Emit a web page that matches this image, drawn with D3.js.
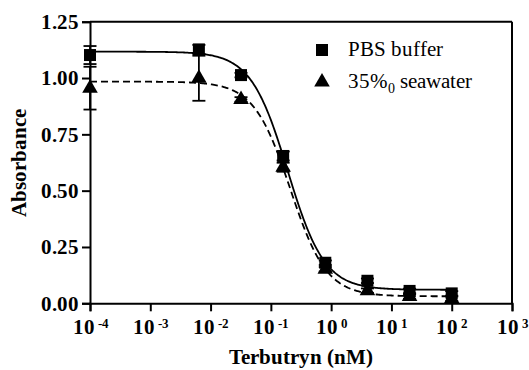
<!DOCTYPE html>
<html>
<head>
<meta charset="UTF-8">
<script src="https://cdn.jsdelivr.net/npm/d3@7"></script>
<style>
  @font-face { font-family: 'TSerif'; font-weight: normal; src: local('Liberation Serif'), local('LiberationSerif'), local('Times New Roman'); }
  @font-face { font-family: 'TSerif'; font-weight: bold; src: local('Liberation Serif Bold'), local('LiberationSerif-Bold'), local('Times New Roman Bold'); }
</style>
</head>
<body style="margin:0">
<svg width="529" height="370"></svg>
<script>
// data
const conc = [1e-4, 0.0064, 0.032, 0.16, 0.8, 4, 20, 100]
const pbs = [1.102, 1.127, 1.013, 0.654, 0.180, 0.100, 0.055, 0.044]
const pbsErr = [0.04, 0.02, 0.01, 0.02, 0.01, 0.01, 0.01, 0.01]
const sea = [0.955, 0.999, 0.905, 0.604, 0.151, 0.056, 0.030, 0.020]
const seaErr = [0.095, 0.10, 0.01, 0.02, 0.01, 0.01, 0.01, 0.01]
// 4PL fit params: top, bottom, IC50, hill
const pbsFit = [1.117, 0.060, 0.19, 1.42]
const seaFit = [0.984, 0.031, 0.21, 1.44]
const xTicks = [1e-4, 1e-3, 1e-2, 1e-1, 1e0, 1e1, 1e2, 1e3]
const yTicks = [0, 0.25, 0.5, 0.75, 1.0, 1.25]

const FONT = '"TSerif", "Liberation Serif", "Times New Roman"'

const svg = d3.select('svg')
const x = d3.scaleLog().domain([1e-4, 1e3]).range([90, 512])
const y = d3.scaleLinear().domain([0, 1.25]).range([303.3, 21.7])

// box top/right
svg.append('line').attr('x1', x(1e-4)).attr('x2', x(1e3)).attr('y1', y(1.25)).attr('y2', y(1.25))
  .attr('stroke', '#000').attr('stroke-width', 2)
svg.append('line').attr('x1', x(1e3)).attr('x2', x(1e3)).attr('y1', y(1.25)).attr('y2', y(0))
  .attr('stroke', '#000').attr('stroke-width', 2)

// axes
const gx = svg.append('g').attr('transform', `translate(0,${y(0)})`)
  .call(d3.axisBottom(x).tickValues(xTicks).tickSize(8).tickFormat(''))
const gy = svg.append('g').attr('transform', `translate(${x(1e-4)},0)`)
  .call(d3.axisLeft(y).tickValues(yTicks).tickSize(8).tickPadding(3).tickFormat(d3.format('.2f')))
svg.selectAll('.domain, .tick line').attr('stroke', '#000').attr('stroke-width', 2)
svg.selectAll('g').attr('font-family', null).attr('font-size', null)

gx.selectAll('.tick').append('text')
  .attr('y', 31).attr('text-anchor', 'middle')
  .each(function (d) {
    const t = d3.select(this)
    t.append('tspan').text('10')
    t.append('tspan').attr('dy', -6).style('font-size', '13px').text(' ' + Math.round(Math.log10(d)))
  })
svg.selectAll('.tick text').attr('fill', '#000').style('font-size', '21px').style('font-weight', 'bold')

// titles
svg.append('text').attr('x', 301).attr('y', 364).attr('text-anchor', 'middle')
  .style('font-size', '21px').style('font-weight', 'bold').text('Terbutryn (nM)')
svg.append('text').attr('transform', 'translate(26,163) rotate(-90)').attr('text-anchor', 'middle')
  .style('font-size', '21px').style('font-weight', 'bold').text('Absorbance')

// fitted curves
const fit = (p, c) => p[1] + (p[0] - p[1]) / (1 + Math.pow(c / p[2], p[3]))
const grid = d3.range(-4, 2.001, 0.02).map(e => Math.pow(10, e))
const line = d3.line().x(d => x(d[0])).y(d => y(d[1]))

svg.append('path').datum(grid.map(c => [c, fit(pbsFit, c)])).attr('d', line)
  .attr('fill', 'none').attr('stroke', '#000').attr('stroke-width', 1.8)
svg.append('path').datum(grid.map(c => [c, fit(seaFit, c)])).attr('d', line)
  .attr('fill', 'none').attr('stroke', '#000').attr('stroke-width', 1.8).attr('stroke-dasharray', '7,4')

// error bars
function errBars(vals, errs) {
  const g = svg.append('g').attr('stroke', '#000').attr('stroke-width', 1.8)
  conc.forEach((c, i) => {
    const cx = x(c), lo = y(vals[i] - errs[i]), hi = y(vals[i] + errs[i])
    g.append('line').attr('x1', cx).attr('x2', cx).attr('y1', lo).attr('y2', hi)
    g.append('line').attr('x1', cx - 6.5).attr('x2', cx + 6.5).attr('y1', lo).attr('y2', lo)
    g.append('line').attr('x1', cx - 6.5).attr('x2', cx + 6.5).attr('y1', hi).attr('y2', hi)
  })
}
errBars(sea, seaErr)
errBars(pbs, pbsErr)

// markers
const sq = d3.symbol().type(d3.symbolSquare).size(144)
const tri = d3.symbol().type(d3.symbolTriangle).size(105)
svg.selectAll('.sea').data(conc).enter().append('path')
  .attr('d', tri).attr('transform', (d, i) => `translate(${x(d)},${y(sea[i])})`).attr('fill', '#000')
svg.selectAll('.pbs').data(conc).enter().append('path')
  .attr('d', sq).attr('transform', (d, i) => `translate(${x(d)},${y(pbs[i])})`).attr('fill', '#000')

// legend
svg.append('path').attr('d', sq).attr('transform', 'translate(322,50)').attr('fill', '#000')
svg.append('path').attr('d', tri).attr('transform', 'translate(322,82)').attr('fill', '#000')
svg.append('text').attr('x', 348).attr('y', 55.5).style('font-size', '21px').text('PBS buffer')
const lt = svg.append('text').attr('x', 348).attr('y', 87.5).style('font-size', '21px')
lt.append('tspan').text('35%')
lt.append('tspan').attr('dy', 5).style('font-size', '14px').text('0')
lt.append('tspan').attr('dy', -5).text(' seawater')

svg.selectAll('text').style('font-family', FONT)
</script>
</body>
</html>
